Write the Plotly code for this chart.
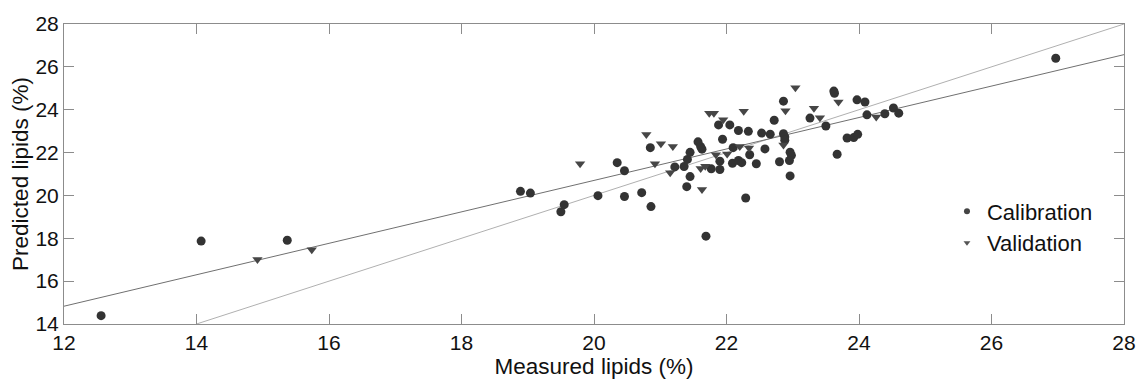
import plotly.graph_objects as go

# Calibration set (measured, predicted)
cal_x = [12.56, 14.07, 15.37, 18.89, 19.04, 19.50, 19.55, 20.06, 20.35, 20.46,
         20.46, 20.72, 20.85, 20.86, 21.22, 21.36, 21.40, 21.41, 21.45, 21.45,
         21.57, 21.61, 21.63, 21.69, 21.77, 21.90, 21.90, 21.88, 21.94, 22.05,
         22.10, 22.09, 22.18, 22.18, 22.23, 22.29, 22.33, 22.35, 22.45, 22.53,
         22.58, 22.66, 22.72, 22.80, 22.86, 22.86, 22.88, 22.88, 22.96, 22.98,
         22.95, 22.96, 23.26, 23.50, 23.62, 23.63, 23.67, 23.82, 23.92, 23.98,
         23.97, 24.09, 24.12, 24.39, 24.52, 24.60, 26.97]
cal_y = [14.39, 17.87, 17.91, 20.19, 20.11, 19.24, 19.57, 19.99, 21.53, 21.15,
         19.95, 20.13, 22.23, 19.48, 21.33, 21.35, 20.41, 21.68, 20.88, 22.01,
         22.50, 22.28, 22.16, 18.10, 21.24, 21.60, 21.21, 23.29, 22.62, 23.29,
         22.23, 21.50, 23.03, 21.63, 21.53, 19.88, 22.99, 21.90, 21.48, 22.91,
         22.17, 22.86, 23.51, 21.57, 24.40, 22.88, 22.73, 22.58, 22.02, 21.87,
         21.63, 20.91, 23.61, 23.24, 24.87, 24.77, 21.92, 22.68, 22.70, 22.85,
         24.46, 24.36, 23.76, 23.81, 24.08, 23.84, 26.40]

# Validation set (measured, predicted)
val_x = [14.92, 15.74, 19.79, 20.79, 20.92, 21.01, 21.15, 21.19, 21.61, 21.63,
         21.68, 21.74, 21.81, 21.84, 21.95, 22.01, 22.20, 22.26, 22.34, 22.86,
         22.89, 23.04, 23.32, 23.41, 23.69, 24.26]
val_y = [17.01, 17.46, 21.48, 22.84, 21.48, 22.41, 21.06, 22.28, 21.26, 20.28,
         21.36, 23.83, 23.83, 21.90, 23.53, 21.93, 22.28, 23.93, 22.21, 22.35,
         23.95, 25.02, 24.07, 23.62, 24.36, 23.66]

# Regression line and 1:1 line
fit_x = [12, 28]
fit_y = [14.83, 26.57]
ident_x = [14, 28]
ident_y = [14, 28]

x_ticks = [12, 14, 16, 18, 20, 22, 24, 26, 28]
y_ticks = [14, 16, 18, 20, 22, 24, 26, 28]

FONT = "Liberation Sans, Arial, sans-serif"

fig = go.Figure()
fig.add_trace(go.Scatter(x=ident_x, y=ident_y, mode="lines",
                         line=dict(color="#b0b0b0", width=1), showlegend=False, hoverinfo="skip"))
fig.add_trace(go.Scatter(x=fit_x, y=fit_y, mode="lines",
                         line=dict(color="#707070", width=1), showlegend=False, hoverinfo="skip"))
fig.add_trace(go.Scatter(x=cal_x, y=cal_y, mode="markers", name="Calibration",
                         marker=dict(symbol="circle", size=9, color="#333333"), showlegend=False))
fig.add_trace(go.Scatter(x=val_x, y=val_y, mode="markers", name="Validation",
                         marker=dict(symbol="triangle-down", size=9, color="#464646"), showlegend=False))
# legend entries with smaller markers
fig.add_trace(go.Scatter(x=[None], y=[None], mode="markers", name="Calibration",
                         marker=dict(symbol="circle", size=6, color="#444444")))
fig.add_trace(go.Scatter(x=[None], y=[None], mode="markers", name="Validation",
                         marker=dict(symbol="triangle-down", size=6, color="#555555")))

axis_common = dict(
    showline=True, linecolor="#8c8c8c", linewidth=1, mirror="ticks",
    ticks="inside", ticklen=10, tickcolor="#8c8c8c", tickwidth=1,
    showgrid=False, zeroline=False,
    tickfont=dict(family=FONT, size=21, color="#111111"),
)

fig.update_layout(
    width=1148, height=383,
    margin=dict(l=64, r=19, t=15, b=58),
    paper_bgcolor="white", plot_bgcolor="white",
    font=dict(family=FONT, color="#111111"),
    xaxis=dict(range=[12, 28], tickvals=x_ticks, ticktext=[str(v) for v in x_ticks],
               title=dict(text="Measured lipids (%)", font=dict(size=22.5), standoff=1),
               **axis_common),
    yaxis=dict(range=[14, 28], tickvals=y_ticks, ticktext=[str(v) for v in y_ticks],
               title=dict(text="Predicted lipids (%)", font=dict(size=22.5), standoff=0),
               **axis_common),
    legend=dict(x=0.833, y=0.322, xanchor="left", yanchor="middle",
                bgcolor="rgba(255,255,255,1)", borderwidth=0, tracegroupgap=0,
                font=dict(family=FONT, size=22, color="#111111")),
)

fig.write_html("out.html")
